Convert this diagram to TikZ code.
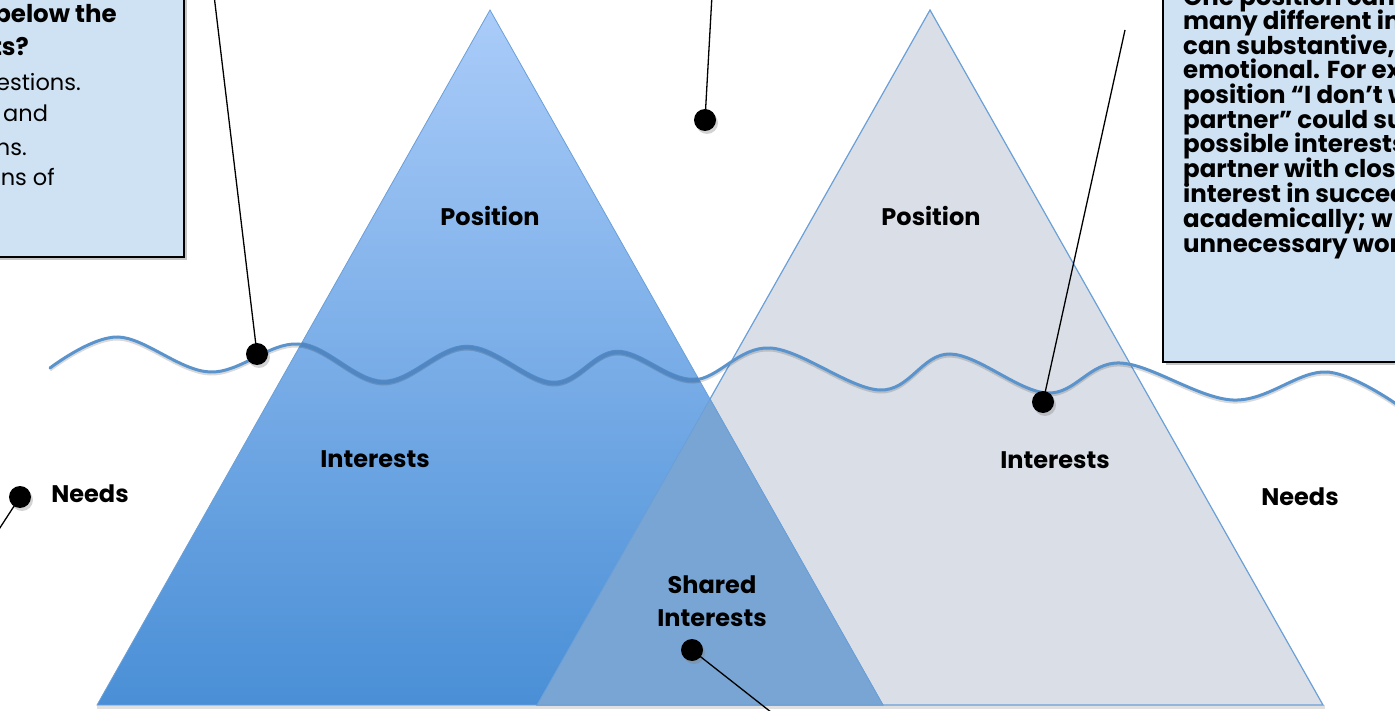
\documentclass[tikz,border=0pt]{standalone}
\usepackage{fontspec}
\setmainfont{Poppins}
\usetikzlibrary{shadows}
\definecolor{bluetop}{HTML}{AACCF9}
\definecolor{bluebot}{HTML}{4A8FD6}
\definecolor{blueedge}{HTML}{6A9FD8}
\definecolor{grayfill}{HTML}{DADFE7}
\definecolor{sharedfill}{HTML}{78A5D3}
\definecolor{boxfill}{HTML}{CFE2F3}
\definecolor{wavecol}{HTML}{5B93CC}
\definecolor{wavedark}{HTML}{4E84C0}
\tikzset{
  lbl/.style={font=\fontsize{24}{27}\selectfont\bfseries, text=black, inner sep=0pt},
  boxtxtb/.style={font=\fontsize{24.5}{25}\selectfont\bfseries, text=black, inner sep=0pt},
  boxtxtr/.style={font=\fontsize{22.5}{25}\selectfont, text=black, inner sep=0pt},
  dotnode/.style={circle, fill=black, minimum size=22pt, inner sep=0pt,
    drop shadow={opacity=0.35, shadow xshift=2pt, shadow yshift=-3pt}},
  wire/.style={black, line width=1.3pt},
  notebox/.style={fill=boxfill, draw=black, line width=1.5pt,
    drop shadow={opacity=0.45, shadow xshift=3pt, shadow yshift=-3pt}},
  wave/.style={wavecol, line width=3pt, line cap=round},
  wavein/.style={wavedark, line width=4.5pt, line cap=round, opacity=0.8},
}
\def\wavepath{plot[smooth, tension=0.6] coordinates {(50,368) (118,337) (210,372) (298,344) (383,382) (467,347) (553,383) (617,352) (693,380) (770,348) (880,390) (950,354) (1047,393) (1120,363) (1233,400) (1327,372) (1405,410)}}
\begin{document}
\begin{tikzpicture}[x=1pt,y=-1pt]
\useasboundingbox (0,0) rectangle (1395,711);
% base shadow
\fill[black, opacity=0.12] (97,705) rectangle (1325,709);
% right (gray) triangle
\filldraw[fill=grayfill, draw=blueedge, line width=1.2pt] (930,10) -- (1323,705) -- (537,705) -- cycle;
% left (blue) triangle
\shadedraw[top color=bluetop, bottom color=bluebot, draw=blueedge, line width=0.8pt] (490,10) -- (883,705) -- (97,705) -- cycle;
% shared region
\filldraw[fill=sharedfill, draw=blueedge, line width=0.8pt] (710,399) -- (883,705) -- (537,705) -- cycle;
% wave
\draw[black, opacity=0.15, line width=3pt, yshift=-2pt] \wavepath;
\draw[wave] \wavepath;
\begin{scope}
  \clip (490,10) -- (883,705) -- (97,705) -- cycle;
  \draw[wavein] \wavepath;
\end{scope}
% labels
\node[lbl] (pos1) at (490,216) {Position};
\node[lbl] (pos2) at (931,216) {Position};
\node[lbl] (int1) at (375,459) {Interests};
\node[lbl] (int2) at (1055,460) {Interests};
\node[lbl] (need1) at (90,494) {Needs};
\node[lbl] (need2) at (1300,497) {Needs};
\node[lbl, align=center, font=\fontsize{24}{33}\selectfont\bfseries] (shared) at (712,601) {Shared\\Interests};
% top-left box
\path[notebox] (-20,-20) rectangle (184,257);
\node[boxtxtb, anchor=mid east] (tl1) at (117,20) {below the};
\node[boxtxtb, anchor=mid east] (tl2) at (29,53) {ts?};
\node[boxtxtr, anchor=mid east] (tl3) at (81,88) {estions.};
\node[boxtxtr, anchor=mid west] (tl4) at (3,119) {and};
\node[boxtxtr, anchor=mid east] (tl5) at (27,153) {ns.};
\node[boxtxtr, anchor=mid east] (tl6) at (55,183) {ns of};
% top-right box
\path[notebox] (1163,-20) rectangle (1420,362);
\node[boxtxtb, anchor=mid west] (tr0) at (1183,3) {One position can};
\node[boxtxtb, anchor=mid west] (tr1) at (1183,27) {many different in};
\node[boxtxtb, anchor=mid west] (tr2) at (1183,52) {can substantive,};
\node[boxtxtb, anchor=mid west] (tr3) at (1183,76) {emotional. For ex};
\node[boxtxtb, anchor=mid west] (tr4) at (1183,101) {position “I don’t w};
\node[boxtxtb, anchor=mid west] (tr5) at (1183,126) {partner” could su};
\node[boxtxtb, anchor=mid west] (tr6) at (1183,150) {possible interests};
\node[boxtxtb, anchor=mid west] (tr7) at (1183,175) {partner with clos};
\node[boxtxtb, anchor=mid west] (tr8) at (1183,200) {interest in succee};
\node[boxtxtb, anchor=mid west] (tr9) at (1183,225) {academically; w};
\node[boxtxtb, anchor=mid west] (tr10) at (1183,250) {unnecessary wor};
% dots
\node[dotnode] (d1) at (257,354) {};
\node[dotnode] (d2) at (705,120) {};
\node[dotnode] (d3) at (1043,402) {};
\node[dotnode] (d4) at (20,497) {};
\node[dotnode] (d5) at (692,650) {};
% connector ends
\coordinate (e1) at (214,-5);
\coordinate (e2) at (712,-5);
\coordinate (e3) at (1125,30);
\coordinate (e4) at (-8,540);
\coordinate (e5) at (776,716);
\draw[wire] (e1) -- (d1.center);
\draw[wire] (e2) -- (d2.center);
\draw[wire] (e3) -- (d3.center);
\draw[wire] (d4.center) -- (e4);
\draw[wire] (d5.center) -- (e5);
\end{tikzpicture}
\end{document}
